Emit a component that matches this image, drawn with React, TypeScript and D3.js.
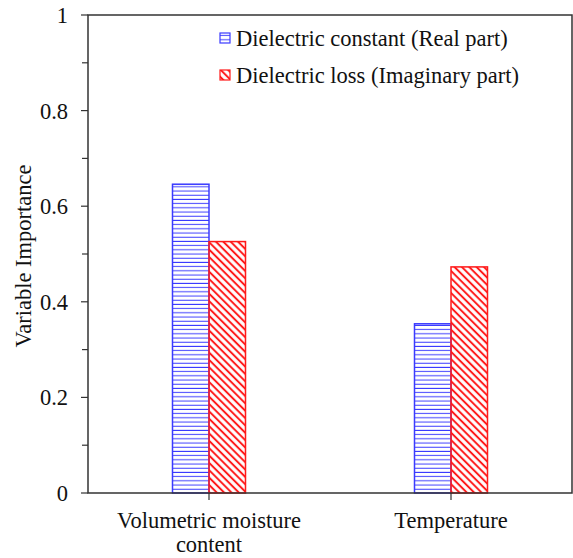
import React from "react";
import * as d3 from "d3";

const categories = ["Volumetric moisture content", "Temperature"];
const categoryLines = [["Volumetric moisture", "content"], ["Temperature"]];
const seriesNames = ["Dielectric constant (Real part)", "Dielectric loss (Imaginary part)"];
const realPart = [0.646, 0.354];
const imaginaryPart = [0.526, 0.473];
const yTicks = [0, 0.2, 0.4, 0.6, 0.8, 1];
const yMinorTicks = [0.1, 0.3, 0.5, 0.7, 0.9];

const W = 573, H = 558;
const L = 88, R = 572, T = 15, B = 493;
const FONT = "'Liberation Serif', 'Times New Roman', serif";
const FS = 22.5;

export default function App() {
  const x = d3.scaleBand<string>().domain(categories).range([L, R]);
  const y = d3.scaleLinear().domain([0, 1]).range([B, T]);
  const barW = 36.5;
  const blue = "#3b3bff";
  const red = "#ff1a1a";
  const axisColor = "#333";

  return (
    <svg width={W} height={H} style={{ position: "absolute", left: 0, top: 0, background: "#fff" }}>
      <defs>
        <pattern id="hpat" patternUnits="userSpaceOnUse" width={8} height={4.2}>
          <line x1={0} x2={8} y1={2} y2={2} stroke={blue} strokeWidth={1} />
        </pattern>
        <pattern id="dpat" patternUnits="userSpaceOnUse" width={8} height={5.2} patternTransform="rotate(45)">
          <line x1={0} x2={8} y1={2.6} y2={2.6} stroke={red} strokeWidth={2} />
        </pattern>
      </defs>
      <rect x={0} y={0} width={W} height={H} fill="#fff" />
      {categories.map((c, i) => {
        const cx = (x(c) as number) + x.bandwidth() / 2;
        return (
          <g key={c}>
            <rect x={cx - barW} y={y(realPart[i])} width={barW} height={B - y(realPart[i])}
              fill="url(#hpat)" stroke={blue} strokeWidth={1.5} />
            <rect x={cx} y={y(imaginaryPart[i])} width={barW} height={B - y(imaginaryPart[i])}
              fill="url(#dpat)" stroke={red} strokeWidth={1.5} />
          </g>
        );
      })}
      {/* frame */}
      <path d={`M${L},${B} L${L},${T} L${R},${T} L${R},${B} Z`} fill="none" stroke={axisColor} strokeWidth={1.5} />
      {/* y ticks */}
      {yTicks.map((t) => (
        <g key={t}>
          <line x1={L - 7} x2={L} y1={y(t)} y2={y(t)} stroke={axisColor} strokeWidth={1.2} />
          <text x={68} y={y(t) + 8} textAnchor="end" fontFamily={FONT} fontSize={FS} fill="#111">
            {d3.format("~g")(t)}
          </text>
        </g>
      ))}
      {yMinorTicks.map((t) => (
        <line key={t} x1={L - 6} x2={L} y1={y(t)} y2={y(t)} stroke={axisColor} strokeWidth={1.2} />
      ))}
      {/* x ticks & labels */}
      {categories.map((c, i) => {
        const cx = (x(c) as number) + x.bandwidth() / 2;
        return (
          <g key={c}>
            <line x1={cx} x2={cx} y1={B} y2={B + 7} stroke={axisColor} strokeWidth={1.2} />
            {categoryLines[i].map((ln, j) => (
              <text key={j} x={cx} y={528 + j * 24} textAnchor="middle" fontFamily={FONT} fontSize={FS} fill="#111">
                {ln}
              </text>
            ))}
          </g>
        );
      })}
      {/* y title */}
      <text transform={`translate(31,${(T + B) / 2 + 2}) rotate(-90)`} textAnchor="middle" fontFamily={FONT} fontSize={FS} fill="#111">
        Variable Importance
      </text>
      {/* legend */}
      {seriesNames.map((s, i) => {
        const ly = 46 + i * 37;
        return (
          <g key={s}>
            <rect x={220} y={ly - 13} width={10} height={10} fill={i === 0 ? "url(#hpat)" : "url(#dpat)"}
              stroke={i === 0 ? blue : red} strokeWidth={1.2} />
            <text x={236} y={ly} fontFamily={FONT} fontSize={FS} fill="#111">{s}</text>
          </g>
        );
      })}
    </svg>
  );
}
